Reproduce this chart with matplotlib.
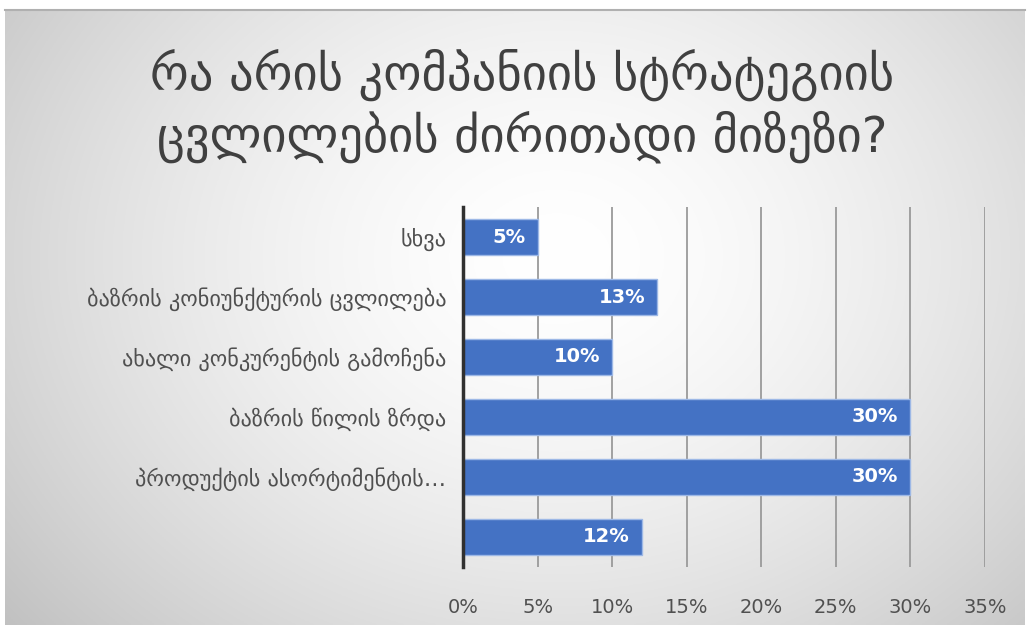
import numpy as np
import matplotlib
matplotlib.use("Agg")
import matplotlib.pyplot as plt
from matplotlib.ticker import FuncFormatter

title_lines = ["რა არის კომპანიის სტრატეგიის", "ცვლილების ძირითადი მიზეზი?"]
categories = ["სხვა",
              "ბაზრის კონიუნქტურის ცვლილება",
              "ახალი კონკურენტის გამოჩენა",
              "ბაზრის წილის ზრდა",
              "პროდუქტის ასორტიმენტის…",
              ""]
values = [5, 13, 10, 30, 30, 12]
xticks = [0, 5, 10, 15, 20, 25, 30, 35]

W, H = 1030, 630
fig = plt.figure(figsize=(W / 100, H / 100), dpi=100)
fig.patch.set_facecolor("white")

# background panel with radial gradient
bg = fig.add_axes([5 / W, 5 / H, 1020 / W, 615 / H])
yy, xx = np.mgrid[0:300, 0:500]
cx, cy = 270, 120
r = np.sqrt(((xx - cx) / 300.0) ** 2 + ((yy - cy) / 240.0) ** 2)
v = 1.0 - 0.19 * np.clip(r, 0, 1.2) ** 1.6
bg.imshow(np.dstack([v, v, v]), aspect="auto", extent=[0, 1, 0, 1], origin="upper")
bg.set_axis_off()
fig.add_artist(plt.Line2D([5 / W, 1025 / W], [1 - 10 / H, 1 - 10 / H],
                          color="#b0b0b0", lw=1.5))

fig.text(522 / W, 1 - 75 / H, title_lines[0], ha="center", va="center",
         fontsize=35, color="#404040")
fig.text(522 / W, 1 - 137 / H, title_lines[1], ha="center", va="center",
         fontsize=35, color="#404040")

ax = fig.add_axes([463 / W, 1 - 567 / H, (985 - 463) / W, (567 - 207) / H])
ax.patch.set_alpha(0)
y = np.arange(len(categories))
bars = ax.barh(y, values, height=0.6, color="#4472C4", edgecolor="#9db8e6",
               linewidth=1, zorder=3)
ax.set_ylim(len(categories) - 0.5, -0.5)
ax.set_xlim(0, 35)
ax.set_xticks(xticks)
ax.xaxis.set_major_formatter(FuncFormatter(lambda x, p: f"{x:.0f}%"))
ax.set_yticks(y)
ax.set_yticklabels(categories)
ax.tick_params(axis="both", length=0, colors="#505050")
ax.tick_params(axis="x", pad=22, labelsize=14)
ax.tick_params(axis="y", pad=12, labelsize=16)
ax.grid(axis="x", color="#9a9a9a", lw=1.3, zorder=0)
for s in ["top", "right", "bottom"]:
    ax.spines[s].set_visible(False)
ax.spines["left"].set_color("#303030")
ax.spines["left"].set_linewidth(2.5)
ax.spines["left"].set_zorder(4)

for b, val in zip(bars, values):
    ax.text(b.get_width() - 0.8, b.get_y() + b.get_height() / 2, f"{val}%",
            ha="right", va="center", color="white", fontsize=14,
            fontweight="bold", zorder=5)

fig.savefig("out.png", dpi=100)
